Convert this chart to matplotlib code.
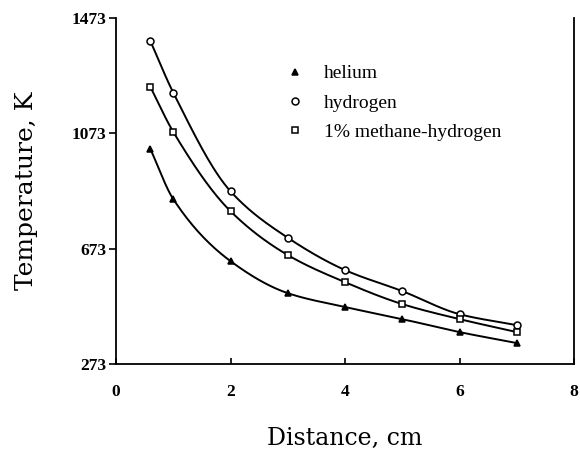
import numpy as np
import matplotlib
matplotlib.use("Agg")
import matplotlib.pyplot as plt
from matplotlib.lines import Line2D

# data
distance = [0.6, 1, 2, 3, 4, 5, 6, 7]
t_helium = [1019, 845, 630, 519, 471, 429, 384, 346]
t_hydrogen = [1393, 1214, 872, 711, 599, 526, 446, 408]
t_methane = [1234, 1078, 803, 651, 557, 481, 429, 384]

labels = ["helium", "hydrogen", "1% methane-hydrogen"]
markers = ["^", "o", "s"]
fills = ["black", "white", "white"]

x_ticks = [0, 2, 4, 6, 8]
y_ticks = [273, 673, 1073, 1473]


def smooth(x, y, n=200):
    # monotone cubic (pchip) just for drawing the line through the points
    x = np.asarray(x, float)
    y = np.asarray(y, float)
    h = np.diff(x)
    d = np.diff(y) / h
    m = np.zeros_like(y)
    for k in range(1, len(x) - 1):
        if d[k - 1] * d[k] > 0:
            w1 = 2 * h[k] + h[k - 1]
            w2 = h[k] + 2 * h[k - 1]
            m[k] = (w1 + w2) / (w1 / d[k - 1] + w2 / d[k])
    m[0] = d[0]
    m[-1] = d[-1]
    xs = np.linspace(x[0], x[-1], n)
    idx = np.clip(np.searchsorted(x, xs) - 1, 0, len(h) - 1)
    t = (xs - x[idx]) / h[idx]
    h00 = 2 * t**3 - 3 * t**2 + 1
    h10 = t**3 - 2 * t**2 + t
    h01 = -2 * t**3 + 3 * t**2
    h11 = t**3 - t**2
    ys = (h00 * y[idx] + h10 * h[idx] * m[idx]
          + h01 * y[idx + 1] + h11 * h[idx] * m[idx + 1])
    return xs, ys


fig = plt.figure(figsize=(5.8, 4.49), dpi=100)
ax = fig.add_axes([0.2, 0.189, 0.79, 0.771])

series = [t_helium, t_hydrogen, t_methane]
handles = []
for temps, mk, fc, lab in zip(series, markers, fills, labels):
    xs, ys = smooth(distance, temps)
    ax.plot(xs, ys, color="black", lw=1.4)
    ax.plot(distance, temps, linestyle="none", marker=mk, ms=5,
            mfc=fc, mec="black", mew=1.1)
    handles.append(Line2D([], [], linestyle="none", marker=mk, ms=5,
                          mfc=fc, mec="black", mew=1.1, label=lab))

ax.set_xlim(0, 8)
ax.set_ylim(273, 1473)
ax.set_xticks(x_ticks)
ax.set_yticks(y_ticks)
ax.spines["top"].set_visible(False)
for s in ax.spines.values():
    s.set_linewidth(1.3)
ax.tick_params(axis="x", direction="in", length=4, width=1.2, pad=14)
ax.tick_params(axis="y", direction="out", length=5, width=1.2, pad=2)
for lbl in ax.get_xticklabels() + ax.get_yticklabels():
    lbl.set_fontfamily("Liberation Serif")
    lbl.set_fontweight("bold")
    lbl.set_fontsize(12.5)

ax.set_xlabel("Distance, cm", family="DejaVu Serif", fontsize=17, labelpad=20)
ax.set_ylabel("Temperature, K", family="DejaVu Serif", fontsize=18, labelpad=24)

leg = ax.legend(handles=handles, loc="upper left", bbox_to_anchor=(0.34, 0.915),
                frameon=False, handlelength=0.6, handletextpad=1.2,
                labelspacing=0.6, prop={"family": "Liberation Serif", "size": 14})

fig.savefig("out.png", dpi=100)
